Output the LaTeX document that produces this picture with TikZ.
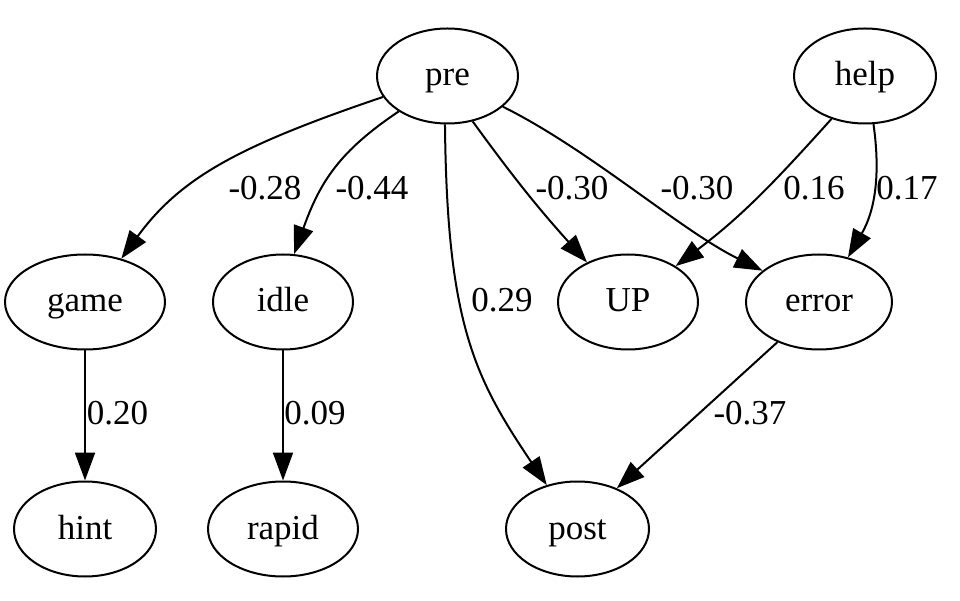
\documentclass[tikz,border=0pt]{standalone}
\usepackage{fontspec}
\setmainfont{Liberation Serif}
\usetikzlibrary{shapes.geometric,arrows.meta}
\begin{document}
\begin{tikzpicture}[x=1pt,y=1pt,
  vert/.style={draw, ellipse, line width=2pt, minimum height=95pt, inner sep=0pt,
    text height=28pt, text depth=8pt, font=\fontsize{35}{42}\selectfont},
  edge/.style={draw, line width=2pt, -{Triangle[length=28pt,width=20pt]}},
  lab/.style={font=\fontsize{35}{42}\selectfont, inner sep=0pt}]
\useasboundingbox[fill=white] (0,0) rectangle (960,600);
% nodes
\node[vert, minimum width=141pt] (pre)   at (447.5,524) {pre};
\node[vert, minimum width=142pt] (help)  at (865,524)   {help};
\node[vert, minimum width=160pt] (game)  at (85,298)    {game};
\node[vert, minimum width=140pt] (idle)  at (283,298)   {idle};
\node[vert, minimum width=140pt] (UP)    at (628,298)   {UP};
\node[vert, minimum width=146pt] (error) at (819,298)   {error};
\node[vert, minimum width=142pt] (hint)  at (85,71)     {hint};
\node[vert, minimum width=150pt] (rapid) at (283,71)    {rapid};
\node[vert, minimum width=143pt] (post)  at (577.5,71)  {post};
% edges
\draw[edge] (pre.198) .. controls (240,454.5) and (181,423) .. (game.50);
\draw[edge] (pre.216) .. controls (339,448.5) and (320,418) .. (idle.77);
\draw[edge] (pre.267) .. controls (447,277) and (474,223) .. (post.125);
\draw[edge] (pre.299) to[out=-54,in=132] (UP.136);
\draw[edge] (pre.331) .. controls (590,450) and (680,370) .. (error.151);
\draw[edge] (help.232) to[out=228,in=37] (UP.37);
\draw[edge] (help.280) to[out=-82,in=60] (error.57);
\draw[edge] (game.south) -- (hint.north);
\draw[edge] (idle.south) -- (rapid.north);
\draw[edge] (error.224) -- (post.46);
% labels
\node[lab] (l1)  at (265,412)   {-0.28};
\node[lab] (l2)  at (372,412)   {-0.44};
\node[lab] (l3)  at (502,300)   {0.29};
\node[lab] (l4)  at (572,412)   {-0.30};
\node[lab] (l5)  at (697,412)   {-0.30};
\node[lab] (l6)  at (814,412)   {0.16};
\node[lab] (l7)  at (907,412)   {0.17};
\node[lab] (l8)  at (117.5,187) {0.20};
\node[lab] (l9)  at (315,187)   {0.09};
\node[lab] (l10) at (750,187)   {-0.37};
\end{tikzpicture}
\end{document}
